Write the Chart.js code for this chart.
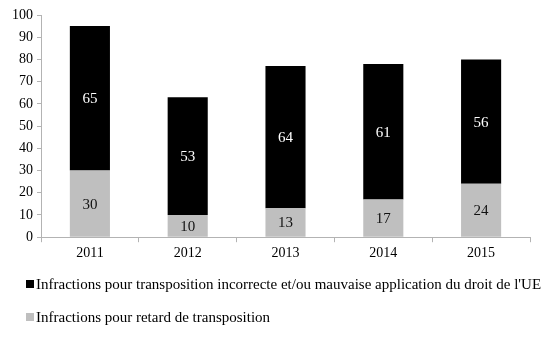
<!DOCTYPE html>
<html>
<head>
<meta charset="utf-8">
<script src="https://cdn.jsdelivr.net/npm/chart.js@4"></script>
<style>
  html, body { margin: 0; padding: 0; background: #fff; }
  #wrap { width: 546px; height: 342px; }
</style>
</head>
<body>
<div id="wrap"><canvas id="chart"></canvas></div>
<script>
const years = ["2011", "2012", "2013", "2014", "2015"];
const retard = [30, 10, 13, 17, 24];
const incorrecte = [65, 53, 64, 61, 56];
const yTicks = [0, 10, 20, 30, 40, 50, 60, 70, 80, 90, 100];

const serif = "'Liberation Serif', 'DejaVu Serif', serif";
const axisColor = "#b3b3b3";

// draws the value in the middle of each bar segment
const segmentLabels = {
  id: "segmentLabels",
  afterDatasetsDraw(chart) {
    const ctx = chart.ctx;
    ctx.save();
    ctx.font = "15px " + serif;
    ctx.textAlign = "center";
    ctx.textBaseline = "middle";
    chart.data.datasets.forEach((ds, i) => {
      const meta = chart.getDatasetMeta(i);
      meta.data.forEach((bar, j) => {
        ctx.fillStyle = ds.labelColor;
        ctx.fillText(String(ds.data[j]), bar.x, (bar.y + bar.base) / 2 + 1);
      });
    });
    ctx.restore();
  },
};

// legend stacked in rows under the chart, small square right next to the text
const rowLegend = {
  id: "rowLegend",
  afterDraw(chart) {
    const ctx = chart.ctx;
    const items = chart.data.datasets.slice().reverse();
    ctx.save();
    ctx.font = "15px " + serif;
    ctx.textBaseline = "middle";
    items.forEach((ds, i) => {
      const y = 284 + i * 33;
      ctx.fillStyle = ds.backgroundColor;
      ctx.fillRect(26, y - 4, 8, 8);
      ctx.fillStyle = "#000";
      ctx.fillText(ds.label, 36, y + 1);
    });
    ctx.restore();
  },
};

new Chart(document.getElementById("chart").getContext("2d"), {
  type: "bar",
  data: {
    labels: years,
    datasets: [
      {
        label: "Infractions pour retard de transposition",
        data: retard,
        backgroundColor: "#bfbfbf",
        labelColor: "#111",
        barPercentage: 0.82,
        categoryPercentage: 0.5,
      },
      {
        label: "Infractions pour transposition incorrecte et/ou mauvaise application du droit de l'UE",
        data: incorrecte,
        backgroundColor: "#000000",
        labelColor: "#ffffff",
        barPercentage: 0.82,
        categoryPercentage: 0.5,
      },
    ],
  },
  options: {
    responsive: true,
    maintainAspectRatio: false,
    animation: false,
    layout: { padding: { top: 15, right: 16, left: 8, bottom: 77 } },
    plugins: {
      tooltip: { enabled: false },
      legend: { display: false },
    },
    scales: {
      x: {
        stacked: true,
        border: { color: axisColor },
        grid: { drawOnChartArea: false, color: axisColor, tickLength: 5, offset: true },
        ticks: { color: "#000", font: { family: serif, size: 14 }, padding: 3 },
      },
      y: {
        stacked: true,
        min: 0,
        max: 100,
        afterBuildTicks: (axis) => { axis.ticks = yTicks.map((v) => ({ value: v })); },
        border: { color: axisColor },
        grid: { drawOnChartArea: false, color: axisColor, tickLength: 4 },
        ticks: { color: "#000", font: { family: serif, size: 14 }, padding: 4 },
      },
    },
  },
  plugins: [segmentLabels, rowLegend],
});
</script>
</body>
</html>
